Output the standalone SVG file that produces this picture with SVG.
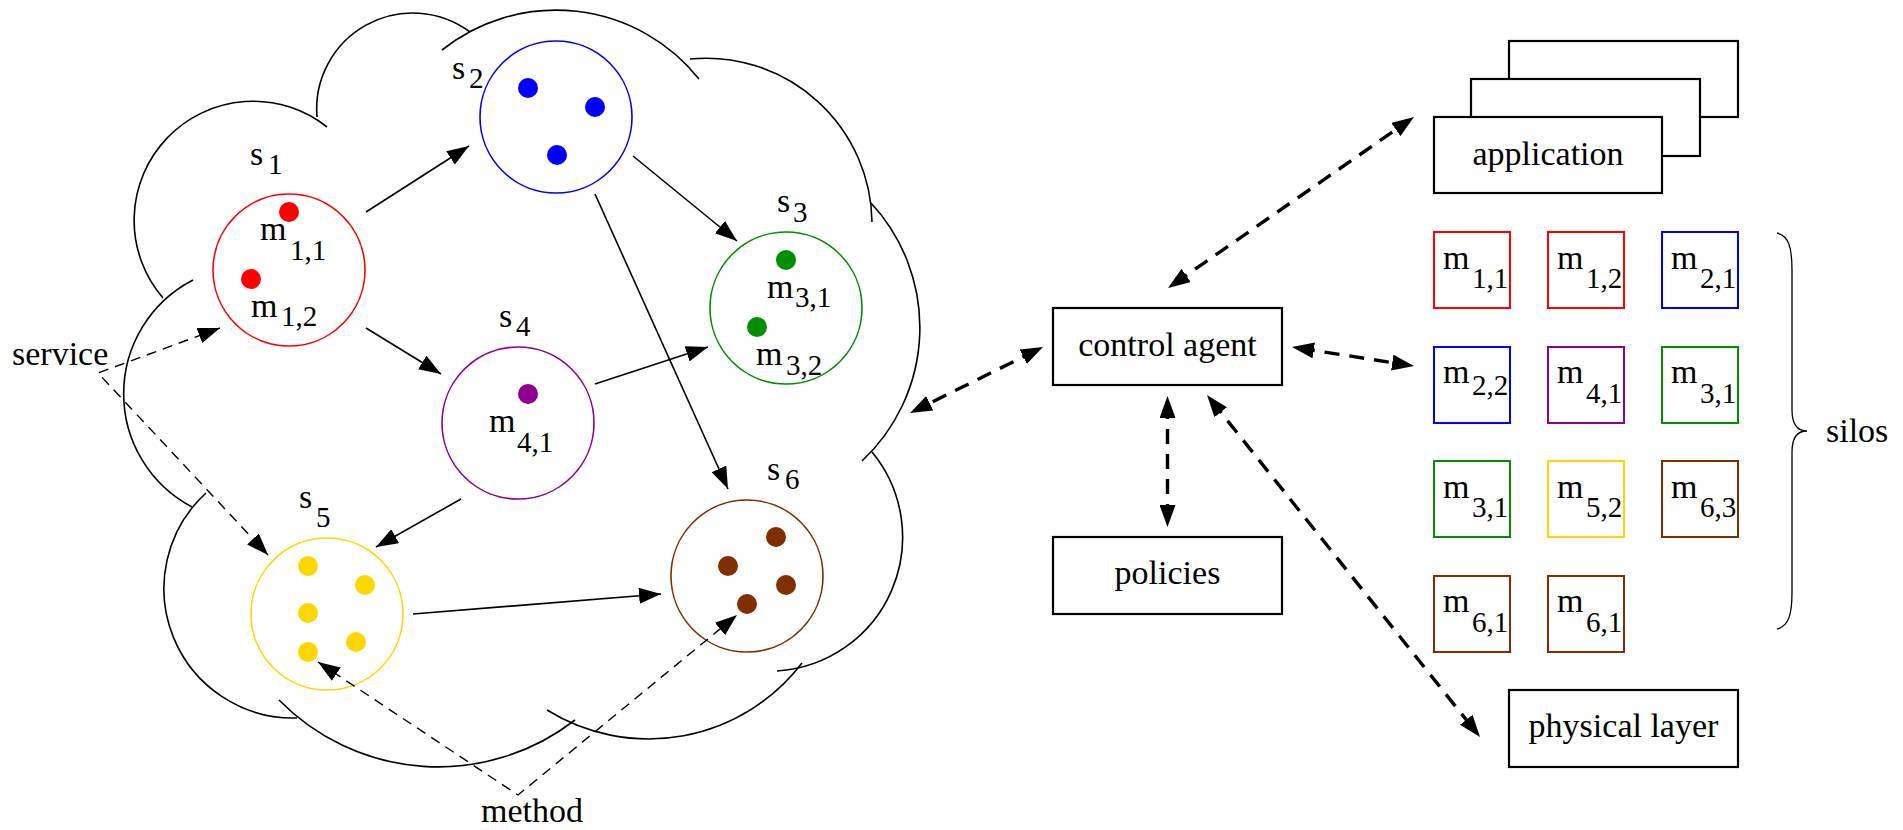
<svg xmlns="http://www.w3.org/2000/svg" width="1903" height="830" viewBox="0 0 1903 830">
<style>
text{font-family:"Liberation Serif","Times New Roman",serif;fill:#000}
.t{font-size:34px}
.sub{font-size:29px}
.mid{text-anchor:middle}
.cloud path{fill:none;stroke:#000;stroke-width:1.6}
.svc{fill:none;stroke-width:1.6}
.box{fill:#fff;stroke:#000;stroke-width:2.2}
.silo{fill:#fff;stroke-width:2}
.solid{fill:none;stroke:#000;stroke-width:1.6;marker-end:url(#ah)}
.thin{fill:none;stroke:#000;stroke-width:1.4;stroke-dasharray:10 7;marker-start:url(#ah);marker-end:url(#ah)}
.thick{fill:none;stroke:#000;stroke-width:3.4;stroke-dasharray:15 10;marker-start:url(#ahk);marker-end:url(#ahk)}
</style>
<defs>
<marker id="ah" markerUnits="userSpaceOnUse" markerWidth="22" markerHeight="16" refX="22" refY="8" orient="auto-start-reverse"><path d="M0,0 L22,8 L0,16 z" fill="#000"/></marker>
<marker id="ahk" markerUnits="userSpaceOnUse" markerWidth="22" markerHeight="16" refX="14" refY="8" orient="auto-start-reverse"><path d="M0,0 L22,8 L0,16 z" fill="#000"/></marker>
</defs>
<rect width="1903" height="830" fill="#fff"/>

<g id="cloud" class="cloud">
<path d="M163,298 A119,119 0 0 1 327,127"/>
<path d="M317,117 A96,96 0 0 1 470,32"/>
<path d="M442,50 A183,183 0 0 1 699,79"/>
<path d="M690,59 A166,166 0 0 1 872,222"/>
<path d="M871,203 A183,183 0 0 1 862,461"/>
<path d="M872,452 A134,134 0 0 1 777,671"/>
<path d="M802,663 A193,193 0 0 1 547,710"/>
<path d="M575,720 A223,223 0 0 1 279,700"/>
<path d="M297,718 A129.5,129.5 0 0 1 206,493"/>
<path d="M193,280 A128,128 0 0 0 192,507"/>
</g>

<g id="s1">
<circle class="svc" cx="289" cy="270" r="76" stroke="#ff0000"/>
<circle cx="289" cy="212" r="10" fill="#ff0000"/>
<circle cx="251" cy="279" r="10" fill="#ff0000"/>
<text class="t" x="250" y="165">s</text><text class="sub" x="268" y="174">1</text>
<text class="t" x="260" y="240">m</text><text class="sub" x="290" y="260">1,1</text>
<text class="t" x="251" y="317">m</text><text class="sub" x="281" y="326">1,2</text>
</g>

<g id="s2">
<circle class="svc" cx="556" cy="117" r="76" stroke="#0000ff"/>
<circle cx="528" cy="88" r="10" fill="#0000ff"/>
<circle cx="595" cy="107" r="10" fill="#0000ff"/>
<circle cx="557" cy="155" r="10" fill="#0000ff"/>
<text class="t" x="452" y="79">s</text><text class="sub" x="469" y="88">2</text>
</g>

<g id="s3">
<circle class="svc" cx="786" cy="308" r="76" stroke="#009000"/>
<circle cx="786" cy="260" r="10" fill="#009000"/>
<circle cx="757" cy="327" r="10" fill="#009000"/>
<text class="t" x="777" y="212">s</text><text class="sub" x="793" y="222">3</text>
<text class="t" x="767" y="298">m</text><text class="sub" x="795" y="307">3,1</text>
<text class="t" x="756" y="365">m</text><text class="sub" x="786" y="375">3,2</text>
</g>

<g id="s4">
<circle class="svc" cx="518" cy="423" r="76" stroke="#8f008f"/>
<circle cx="528" cy="394" r="10" fill="#8f008f"/>
<text class="t" x="499" y="327">s</text><text class="sub" x="516" y="336">4</text>
<text class="t" x="489" y="432">m</text><text class="sub" x="517" y="452">4,1</text>
</g>

<g id="s5">
<circle class="svc" cx="327" cy="614" r="76" stroke="#ffd700"/>
<circle cx="308" cy="566" r="10" fill="#ffd700"/>
<circle cx="365" cy="585" r="10" fill="#ffd700"/>
<circle cx="308" cy="613" r="10" fill="#ffd700"/>
<circle cx="356" cy="642" r="10" fill="#ffd700"/>
<circle cx="308" cy="652" r="10" fill="#ffd700"/>
<text class="t" x="299" y="508">s</text><text class="sub" x="316" y="527">5</text>
</g>

<g id="s6">
<circle class="svc" cx="747" cy="576" r="76" stroke="#803000"/>
<circle cx="776" cy="537" r="10" fill="#803000"/>
<circle cx="728" cy="566" r="10" fill="#803000"/>
<circle cx="786" cy="585" r="10" fill="#803000"/>
<circle cx="747" cy="604" r="10" fill="#803000"/>
<text class="t" x="767" y="480">s</text><text class="sub" x="785" y="489">6</text>
</g>

<g id="service-label"><text class="t" x="12" y="365">service</text></g>
<g id="method-label"><text class="t" x="481" y="822">method</text></g>

<g id="application">
<rect class="box" x="1509" y="41" width="229" height="76"/>
<rect class="box" x="1471" y="79" width="229" height="77"/>
<rect class="box" x="1434" y="117" width="228" height="76"/>
<text class="t mid" x="1548" y="165">application</text>
</g>

<g id="control-agent">
<rect class="box" x="1053" y="308" width="229" height="77"/>
<text class="t mid" x="1167.5" y="356">control agent</text>
</g>

<g id="policies">
<rect class="box" x="1053" y="537" width="229" height="77"/>
<text class="t mid" x="1167.5" y="584">policies</text>
</g>

<g id="physical-layer">
<rect class="box" x="1509" y="690" width="229" height="77"/>
<text class="t mid" x="1623.5" y="737">physical layer</text>
</g>

<g id="silos">
<rect class="silo" x="1434" y="232" width="76" height="76" stroke="#ff0000"/>
<text class="t" x="1443" y="269">m</text><text class="sub" x="1472" y="288">1,1</text>
<rect class="silo" x="1548" y="232" width="76" height="76" stroke="#ff0000"/>
<text class="t" x="1557" y="269">m</text><text class="sub" x="1586" y="288">1,2</text>
<rect class="silo" x="1662" y="232" width="76" height="76" stroke="#0000ff"/>
<text class="t" x="1671" y="269">m</text><text class="sub" x="1700" y="288">2,1</text>

<rect class="silo" x="1434" y="347" width="76" height="76" stroke="#0000ff"/>
<text class="t" x="1443" y="383">m</text><text class="sub" x="1472" y="395">2,2</text>
<rect class="silo" x="1548" y="347" width="76" height="76" stroke="#8f008f"/>
<text class="t" x="1557" y="383">m</text><text class="sub" x="1586" y="403">4,1</text>
<rect class="silo" x="1662" y="347" width="76" height="76" stroke="#009000"/>
<text class="t" x="1671" y="383">m</text><text class="sub" x="1700" y="403">3,1</text>

<rect class="silo" x="1434" y="461" width="76" height="76" stroke="#009000"/>
<text class="t" x="1443" y="498">m</text><text class="sub" x="1472" y="517">3,1</text>
<rect class="silo" x="1548" y="461" width="76" height="76" stroke="#ffd700"/>
<text class="t" x="1557" y="498">m</text><text class="sub" x="1586" y="517">5,2</text>
<rect class="silo" x="1662" y="461" width="76" height="76" stroke="#803000"/>
<text class="t" x="1671" y="498">m</text><text class="sub" x="1700" y="517">6,3</text>

<rect class="silo" x="1434" y="576" width="76" height="76" stroke="#803000"/>
<text class="t" x="1443" y="612">m</text><text class="sub" x="1472" y="632">6,1</text>
<rect class="silo" x="1548" y="576" width="76" height="76" stroke="#803000"/>
<text class="t" x="1557" y="612">m</text><text class="sub" x="1586" y="632">6,1</text>
</g>

<g id="silos-brace">
<path d="M1777,233 C1789,236 1792,248 1792,270 L1792,410 C1792,424 1797,431 1807,431 C1797,431 1792,438 1792,452 L1792,592 C1792,614 1789,626 1777,629" fill="none" stroke="#000" stroke-width="1.3"/>
<text class="t" x="1826" y="442">silos</text>
</g>

<g id="connectors">
<line class="solid" x1="366" y1="212" x2="469" y2="146"/>
<line class="solid" x1="633" y1="156" x2="737" y2="241"/>
<line class="solid" x1="366" y1="328" x2="441" y2="374"/>
<line class="solid" x1="595" y1="384" x2="708" y2="347"/>
<line class="solid" x1="595" y1="194" x2="728" y2="489"/>
<line class="solid" x1="461" y1="499" x2="376" y2="547"/>
<line class="solid" x1="413" y1="614" x2="661" y2="594"/>
<polyline class="thin" points="220,328 98,373 268,555"/>
<polyline class="thin" points="318,662 518,795 737,615"/>
<line class="thick" x1="1174.6" y1="283.4" x2="1407.4" y2="121.6"/>
<line class="thick" x1="1035.8" y1="350.6" x2="917.2" y2="409.4"/>
<line class="thick" x1="1299.9" y1="348.2" x2="1406.1" y2="364.8"/>
<line class="thick" x1="1167.5" y1="404" x2="1167.5" y2="519"/>
<line class="thick" x1="1212" y1="401.3" x2="1475" y2="730.7"/>
</g>
</svg>
